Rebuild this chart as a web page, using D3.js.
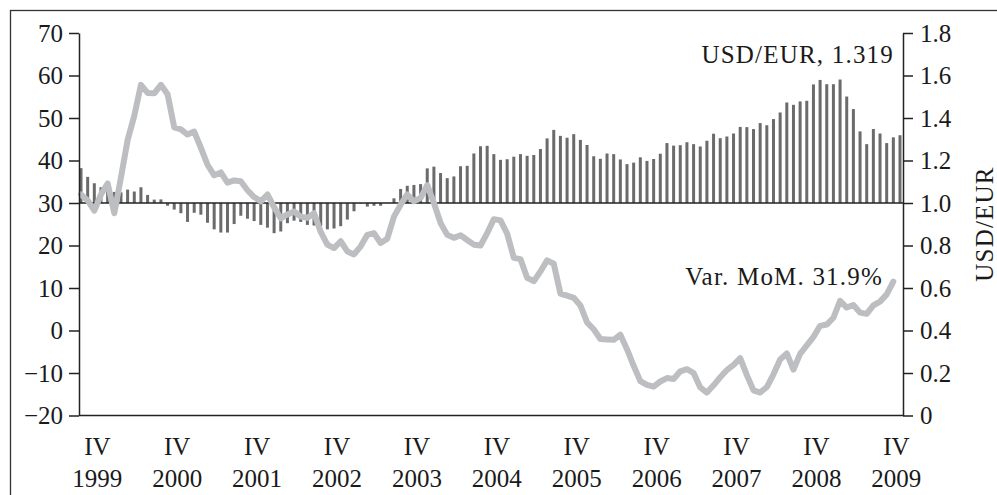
<!DOCTYPE html>
<html>
<head>
<meta charset="utf-8">
<title>USD/EUR and Var. MoM</title>
<script src="https://d3js.org/d3.v7.min.js"></script>
<style>
  body { margin: 0; background: #fff; }
  svg { display: block; font-family: "Liberation Serif", "DejaVu Serif", serif; }
  .axis path, .axis line { stroke: #222; stroke-width: 1.5; }
  .axis text { font-size: 25px; fill: #1a1a1a; font-family: "Liberation Serif", serif; }
  .note { font-size: 25px; fill: #1a1a1a; letter-spacing: 1.2px; }
</style>
</head>
<body>
<div id="chart"></div>
<script>
// monthly, Sep 1999 .. Dec 2009 (bars, right axis)
const usdEur = [
  1.164, 1.123, 1.093, 1.074, 1.061, 1.052, 1.050, 1.063, 1.054, 1.074, 1.038, 1.016,
  1.017, 0.987, 0.969, 0.952, 0.911, 0.954, 0.945, 0.907, 0.876, 0.861, 0.861, 0.901,
  0.940, 0.926, 0.915, 0.897, 0.884, 0.858, 0.866, 0.905, 0.917, 0.911, 0.897, 0.894,
  0.892, 0.876, 0.880, 0.891, 0.922, 0.961, 0.998, 0.983, 0.987, 0.987, 1.001, 1.022,
  1.066, 1.081, 1.085, 1.089, 1.163, 1.171, 1.141, 1.117, 1.125, 1.173, 1.175, 1.233,
  1.267, 1.269, 1.230, 1.203, 1.206, 1.218, 1.230, 1.222, 1.226, 1.254, 1.304, 1.344,
  1.316, 1.307, 1.324, 1.297, 1.273, 1.220, 1.208, 1.233, 1.230, 1.205, 1.183, 1.190,
  1.215, 1.198, 1.207, 1.232, 1.282, 1.270, 1.272, 1.286, 1.277, 1.266, 1.293, 1.326,
  1.305, 1.313, 1.327, 1.358, 1.357, 1.348, 1.376, 1.366, 1.395, 1.426, 1.473, 1.462,
  1.478, 1.481, 1.558, 1.579, 1.559, 1.559, 1.581, 1.501, 1.442, 1.337, 1.277, 1.348,
  1.327, 1.282, 1.309, 1.319
];

// monthly, Sep 1999 .. Nov 2009 (line, left axis)
const varMoM = [
  32.0, 30.6, 28.2, 32.0, 34.6, 27.6, 36.0, 44.8, 50.5, 57.8, 55.9, 55.8,
  57.8, 55.6, 47.8, 47.3, 46.1, 46.8, 43.0, 39.0, 36.5, 37.2, 34.8, 35.3,
  35.1, 33.0, 31.4, 30.4, 32.0, 29.0, 26.4, 27.3, 28.0, 26.8, 26.5, 27.6,
  23.2, 20.2, 19.4, 21.0, 18.6, 17.9, 19.8, 22.5, 22.9, 20.6, 21.6, 26.8,
  29.6, 32.0, 30.4, 31.2, 34.2, 30.0, 25.3, 22.5, 21.8, 22.4, 21.3, 20.2,
  20.0, 22.9, 26.2, 25.9, 22.8, 17.1, 16.8, 12.4, 11.6, 13.9, 16.5, 15.7,
  8.7, 8.2, 7.7, 5.9, 1.9, 0.3, -2.0, -2.1, -2.2, -1.0, -4.4, -8.3,
  -11.9, -12.8, -13.2, -12.0, -11.2, -11.4, -9.6, -9.1, -10.0, -13.4, -14.6, -12.9,
  -11.0, -9.3, -8.1, -6.5, -10.5, -14.1, -14.6, -13.3, -10.3, -6.8, -5.4, -9.2,
  -5.5, -3.5, -1.5, 1.1, 1.4, 3.0, 7.0, 5.4, 6.0, 4.2, 3.9, 5.9,
  6.8, 8.5, 11.5
];

const quarterLabel = "IV";
const yearLabels = ["1999", "2000", "2001", "2002", "2003", "2004", "2005", "2006", "2007", "2008", "2009"];
const yearTickMonth = [2, 14, 26, 38, 50, 62, 74, 86, 98, 110, 122]; // November of each year
const leftTicks = [-20, -10, 0, 10, 20, 30, 40, 50, 60, 70];
const rightTicks = [0, 0.2, 0.4, 0.6, 0.8, 1.0, 1.2, 1.4, 1.6, 1.8];

const width = 997, height = 495;
const plotLeft = 79, plotRight = 903, plotTop = 33, plotBottom = 415.5;

const svg = d3.select("#chart").append("svg")
  .attr("width", width)
  .attr("height", height);

// outer frame (runs off the right and bottom edge)
svg.append("rect")
  .attr("x", 10.5).attr("y", 10.5)
  .attr("width", 1000).attr("height", 600)
  .attr("fill", "none")
  .attr("stroke", "#333")
  .attr("stroke-width", 1.3);

const x = d3.scaleLinear().domain([0, usdEur.length - 1]).range([81, 900]);
const yL = d3.scaleLinear().domain([-20, 70]).range([plotBottom, plotTop]);
const yR = d3.scaleLinear().domain([0, 1.8]).range([plotBottom, plotTop]);

// bars around 1.0
svg.append("g").selectAll("rect")
  .data(usdEur)
  .join("rect")
  .attr("x", (d, i) => x(i) - 1.5)
  .attr("width", 3)
  .attr("y", d => Math.min(yR(d), yR(1)))
  .attr("height", d => Math.abs(yR(d) - yR(1)))
  .attr("fill", "#6b6b6b");

// baseline at 1.0
svg.append("line")
  .attr("x1", plotLeft).attr("x2", plotRight)
  .attr("y1", yR(1)).attr("y2", yR(1))
  .attr("stroke", "#222")
  .attr("stroke-width", 1.6);

// line
svg.append("path")
  .datum(varMoM)
  .attr("fill", "none")
  .attr("stroke", "#bdbec1")
  .attr("stroke-width", 6)
  .attr("stroke-linejoin", "round")
  .attr("stroke-linecap", "round")
  .attr("d", d3.line().x((d, i) => x(i)).y(d => yL(d)));

// left axis
svg.append("g")
  .attr("class", "axis")
  .attr("transform", `translate(${plotLeft},0)`)
  .call(d3.axisLeft(yL)
    .tickValues(leftTicks)
    .tickSize(10)
    .tickSizeOuter(0)
    .tickPadding(6)
    .tickFormat(d => d < 0 ? "\u2212" + Math.abs(d) : d));

// right axis
svg.append("g")
  .attr("class", "axis")
  .attr("transform", `translate(${plotRight},0)`)
  .call(d3.axisRight(yR)
    .tickValues(rightTicks)
    .tickSize(10)
    .tickSizeOuter(0)
    .tickPadding(7)
    .tickFormat(d => d === 0 ? "0" : d3.format(".1f")(d)));

// bottom axis: plain line, two-line labels
const xAxis = svg.append("g")
  .attr("class", "axis")
  .attr("transform", `translate(0,${plotBottom})`)
  .call(d3.axisBottom(x)
    .tickValues(yearTickMonth)
    .tickSize(0)
    .tickSizeOuter(0)
    .tickFormat(""));
xAxis.select(".domain").attr("d", `M${plotLeft},0H${plotRight}`);
xAxis.selectAll(".tick text").remove();
xAxis.selectAll(".tick").each(function(d, i) {
  const t = d3.select(this).append("text")
    .attr("fill", "#1a1a1a")
    .attr("text-anchor", "middle")
    .attr("x", 2.5);
  t.append("tspan").attr("x", 2.5).attr("y", 39.5).text(quarterLabel);
  t.append("tspan").attr("x", 2.5).attr("y", 71).text(yearLabels[i]);
});

// notes
svg.append("text")
  .attr("class", "note")
  .attr("x", 894).attr("y", 63)
  .attr("text-anchor", "end")
  .text("USD/EUR, 1.319");

svg.append("text")
  .attr("class", "note")
  .attr("x", 883).attr("y", 285)
  .attr("text-anchor", "end")
  .text("Var. MoM. 31.9%");

svg.append("text")
  .attr("class", "note")
  .attr("transform", "translate(993,224) rotate(-90)")
  .attr("text-anchor", "middle")
  .text("USD/EUR");
</script>
</body>
</html>
